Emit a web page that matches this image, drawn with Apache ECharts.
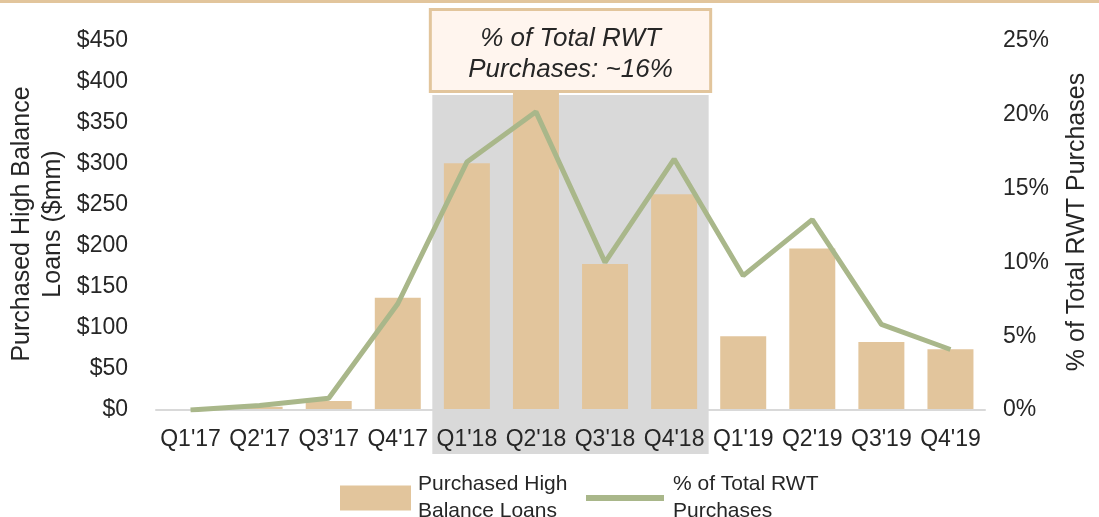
<!DOCTYPE html>
<html>
<head>
<meta charset="utf-8">
<title>Purchased High Balance Loans</title>
<script src="https://cdn.jsdelivr.net/npm/echarts@6/dist/echarts.min.js"></script>
<style>
  html, body { margin: 0; padding: 0; background: #fff; }
  #chart { width: 1099px; height: 517px; }
</style>
</head>
<body>
<div id="chart"></div>
<script>
const categories = ["Q1'17", "Q2'17", "Q3'17", "Q4'17", "Q1'18", "Q2'18", "Q3'18", "Q4'18", "Q1'19", "Q2'19", "Q3'19", "Q4'19"]
// $mm, left axis
const loans = [0, 4, 11, 137, 301, 400, 178, 263, 90, 197, 83, 74]
// % of total RWT purchases, right axis
const pctTotal = [0, 0.3, 0.8, 7.2, 16.8, 20.2, 10.0, 17.0, 9.1, 12.9, 5.8, 4.1]
const leftTicks = { min: 0, max: 450, step: 50 }
const rightTicks = { min: 0, max: 25, step: 5 }
const highlight = ["Q1'18", "Q4'18"]
const noteLines = ['% of Total RWT', 'Purchases: ~16%']

const font = "'Liberation Sans', Arial, sans-serif"
const textColor = '#262626'
const tan = '#e2c59c'
const green = '#a9b78a'

const barName = 'Purchased High\nBalance Loans'
const lineName = '% of Total RWT\nPurchases'

const chart = echarts.init(document.getElementById('chart'))

chart.setOption({
  animation: false,
  textStyle: { fontFamily: font },
  grid: { left: 156, right: 114, top: 41, bottom: 107 },
  legend: [
    {
      left: 335,
      top: 466,
      itemWidth: 71,
      itemHeight: 25,
      icon: 'rect',
      data: [barName],
      textStyle: { fontSize: 21, color: textColor, lineHeight: 27, padding: [0, 0, 0, 2] }
    },
    {
      left: 581,
      top: 466,
      itemWidth: 78,
      itemHeight: 6,
      data: [{ name: lineName, icon: 'rect', itemStyle: { color: green } }],
      textStyle: { fontSize: 21, color: textColor, lineHeight: 27, padding: [0, 0, 0, 4] }
    }
  ],
  xAxis: {
    type: 'category',
    data: categories,
    z: 3,
    axisLine: { lineStyle: { color: '#d9d9d9', width: 2 } },
    axisTick: { show: false },
    axisLabel: { fontSize: 23, color: textColor, margin: 18, interval: 0 }
  },
  yAxis: [
    {
      type: 'value',
      min: leftTicks.min,
      max: leftTicks.max,
      interval: leftTicks.step,
      splitLine: { show: false },
      axisLine: { show: false },
      axisTick: { show: false },
      axisLabel: { fontSize: 23, color: textColor, margin: 28, formatter: v => '$' + v }
    },
    {
      type: 'value',
      min: rightTicks.min,
      max: rightTicks.max,
      interval: rightTicks.step,
      splitLine: { show: false },
      axisLine: { show: false },
      axisTick: { show: false },
      axisLabel: { fontSize: 23, color: textColor, margin: 18, formatter: v => v + '%' }
    }
  ],
  series: [
    {
      name: barName,
      type: 'bar',
      yAxisIndex: 0,
      barWidth: 46,
      itemStyle: { color: tan },
      data: loans
    },
    {
      name: lineName,
      type: 'line',
      yAxisIndex: 1,
      symbol: 'none',
      z: 4,
      lineStyle: { color: green, width: 5 },
      itemStyle: { color: green },
      data: pctTotal
    }
  ]
})

// shaded band behind Q1'18..Q4'18 and the note box above it
const c0 = chart.convertToPixel({ xAxisIndex: 0 }, 0)
const c1 = chart.convertToPixel({ xAxisIndex: 0 }, 1)
const band = c1 - c0
const x0 = chart.convertToPixel({ xAxisIndex: 0 }, categories.indexOf(highlight[0])) - band / 2
const x1 = chart.convertToPixel({ xAxisIndex: 0 }, categories.indexOf(highlight[1])) + band / 2

chart.setOption({
  graphic: [
    {
      type: 'rect',
      z: 0,
      shape: { x: 0, y: 0, width: 1099, height: 3 },
      style: { fill: tan }
    },
    {
      type: 'rect',
      z: 0,
      shape: { x: x0, y: 95, width: x1 - x0, height: 359 },
      style: { fill: '#d9d9d9' }
    },
    {
      type: 'rect',
      z: 10,
      shape: { x: x0 - 2, y: 9.5, width: x1 - x0 + 4, height: 82 },
      style: { fill: '#fff5ee', stroke: tan, lineWidth: 3 }
    },
    {
      type: 'text',
      z: 11,
      x: (x0 + x1) / 2,
      y: 54,
      style: {
        text: noteLines.join('\n'),
        font: 'italic 26px ' + font,
        fill: textColor,
        align: 'center',
        verticalAlign: 'middle',
        lineHeight: 31
      }
    },
    {
      type: 'text',
      z: 5,
      x: 38,
      y: 224,
      rotation: Math.PI / 2,
      style: {
        text: 'Purchased High Balance\nLoans ($mm)',
        font: '25px ' + font,
        fill: textColor,
        align: 'center',
        verticalAlign: 'middle',
        lineHeight: 31
      }
    },
    {
      type: 'text',
      z: 5,
      x: 1077,
      y: 222,
      rotation: Math.PI / 2,
      style: {
        text: '% of Total RWT Purchases',
        font: '25px ' + font,
        fill: textColor,
        align: 'center',
        verticalAlign: 'middle'
      }
    }
  ]
})
</script>
</body>
</html>
